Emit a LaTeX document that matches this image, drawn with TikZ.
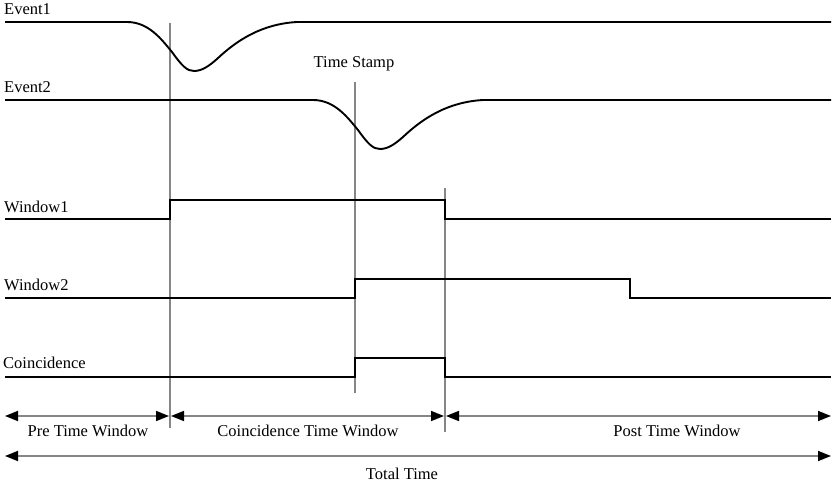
\documentclass[tikz,border=0pt]{standalone}
\usepackage{fontspec}
\setmainfont{Liberation Serif}
\usetikzlibrary{arrows.meta}
\begin{document}
\begin{tikzpicture}[x=1pt,y=-1pt,
  sig/.style={line width=1.9pt,black,line join=miter},
  guide/.style={line width=1.5pt,gray!95},
  tip/.tip={Triangle[length=13pt,width=10pt,color=black]},
  dim/.style={line width=1.6pt,gray!95,tip-tip},
  lbl/.style={font=\fontsize{16.5}{19}\selectfont,inner sep=0pt}]
\useasboundingbox (0,0) rectangle (836,484);
% guide lines
\coordinate (g1t) at (170,23);  \coordinate (g1b) at (170,428);
\coordinate (g2t) at (355,82);  \coordinate (g2b) at (355,393);
\coordinate (g3t) at (445,188); \coordinate (g3b) at (445,432);
\draw[guide] (g1t) -- (g1b);
\draw[guide] (g2t) -- (g2b);
\draw[guide] (g3t) -- (g3b);
% events
\draw[sig,shift={(127,22)}] (-122,0) -- (0,0)
  .. controls (22,0) and (35,18) .. (45,30)
  .. controls (55,44) and (60,49) .. (67,49)
  .. controls (75,49) and (82,44) .. (90,37)
  .. controls (110,18) and (135,2) .. (170,0) -- (704,0);
\draw[sig,shift={(313,100)}] (-308,0) -- (0,0)
  .. controls (22,0) and (35,18) .. (45,30)
  .. controls (55,44) and (60,49) .. (67,49)
  .. controls (75,49) and (82,44) .. (90,37)
  .. controls (110,18) and (135,2) .. (170,0) -- (518,0);
% windows
\draw[sig] (5,219) -- (170,219) -- (170,200) -- (445,200) -- (445,219) -- (831,219);
\draw[sig] (5,298) -- (355,298) -- (355,279) -- (630,279) -- (630,298) -- (831,298);
\draw[sig] (5,377) -- (355,377) -- (355,358) -- (445,358) -- (445,377) -- (831,377);
% labels
\node[lbl,anchor=base west] (e1) at (4,15) {Event1};
\node[lbl,anchor=base west] (e2) at (4,93) {Event2};
\node[lbl,anchor=base west] (w1) at (4,213) {Window1};
\node[lbl,anchor=base west] (w2) at (4,290) {Window2};
\node[lbl,anchor=base west] (co) at (3,368) {Coincidence};
\node[lbl,anchor=base] (ts) at (354,68) {Time Stamp};
% dimension arrows
\coordinate (a0) at (5,416);
\coordinate (a1l) at (169,416); \coordinate (a1r) at (171,416);
\coordinate (a2l) at (444,416); \coordinate (a2r) at (446,416);
\coordinate (a3) at (831,416);
\coordinate (t0) at (5,456); \coordinate (t1) at (831,456);
\draw[dim] (a0) -- (a1l);
\draw[dim] (a1r) -- (a2l);
\draw[dim] (a2r) -- (a3);
\draw[dim] (t0) -- (t1);
\node[lbl,anchor=base] (pre) at (88,436) {Pre Time Window};
\node[lbl,anchor=base] (cw) at (308,436) {Coincidence Time Window};
\node[lbl,anchor=base] (post) at (677,436) {Post Time Window};
\node[lbl,anchor=base] (tt) at (402,479) {Total Time};
\end{tikzpicture}
\end{document}
